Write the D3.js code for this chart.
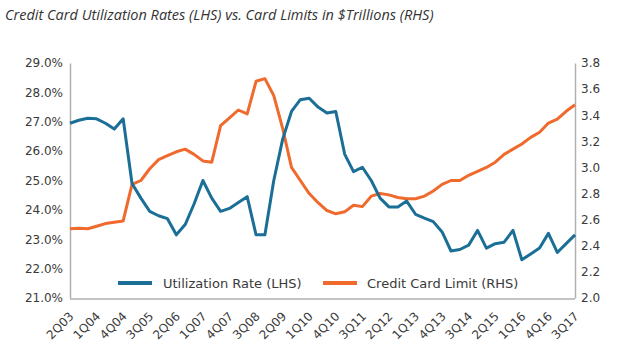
<!DOCTYPE html>
<html><head><meta charset="utf-8">
<script src="https://cdn.jsdelivr.net/npm/d3@7"></script>
<style>body{margin:0;background:#fff}svg{display:block}</style>
</head><body>
<script>
const quarters = (() => { const q=[]; for(let y=2003;y<=2017;y++) for(let k=1;k<=4;k++){ if(y===2003&&k<2) continue; if(y===2017&&k>3) continue; q.push(k+"Q"+String(y).slice(2)); } return q; })();
const utilization = [26.95,27.05,27.12,27.1,26.95,26.75,27.1,24.9,24.4,23.95,23.8,23.7,23.15,23.5,24.2,25.0,24.4,23.95,24.05,24.25,24.45,23.15,23.15,25.0,26.4,27.35,27.75,27.8,27.5,27.3,27.35,25.9,25.3,25.45,25.0,24.4,24.1,24.1,24.3,23.85,23.72,23.6,23.25,22.6,22.65,22.8,23.3,22.7,22.85,22.9,23.3,22.3,22.5,22.7,23.2,22.55,22.85,23.15];
const cardLimit = [2.53,2.535,2.53,2.55,2.57,2.58,2.59,2.87,2.9,2.99,3.06,3.09,3.12,3.14,3.1,3.05,3.04,3.32,3.38,3.44,3.41,3.66,3.68,3.55,3.3,3.0,2.9,2.8,2.73,2.67,2.645,2.66,2.71,2.7,2.78,2.8,2.79,2.77,2.76,2.76,2.78,2.82,2.87,2.9,2.9,2.94,2.97,3.0,3.04,3.1,3.14,3.18,3.23,3.27,3.34,3.37,3.43,3.48];
const leftTicks = [21,22,23,24,25,26,27,28,29];
const rightTicks = [2.0,2.2,2.4,2.6,2.8,3.0,3.2,3.4,3.6,3.8];
const xLabels = quarters.filter((d,i)=>i%3===0);
const title = "Credit Card Utilization Rates (LHS) vs. Card Limits in $Trillions (RHS)";
const legendNames = ["Utilization Rate (LHS)","Credit Card Limit (RHS)"];

const W=640,H=358, L=70, R=575, T=63, B=298;
const BLUE="#1b6f97", ORANGE="#ef6a2c";
const svg=d3.select("body").append("svg").attr("width",W).attr("height",H);
svg.append("text").attr("x",5).attr("y",20).attr("font-family","Open Sans").attr("font-style","italic")
  .attr("font-size",14.5).attr("fill","#333").text(title);

const x=d3.scalePoint().domain(quarters).range([L,R]);
const yL=d3.scaleLinear().domain([21,29]).range([B,T]);
const yR=d3.scaleLinear().domain([2.0,3.8]).range([B,T]);

const font="DejaVu Sans";
const gl=svg.append("g").attr("transform",`translate(${L},0)`)
  .call(d3.axisLeft(yL).tickValues(leftTicks).tickSize(0).tickPadding(7).tickFormat(d=>d.toFixed(1)+"%"));
const gr=svg.append("g").attr("transform",`translate(${R},0)`)
  .call(d3.axisRight(yR).tickValues(rightTicks).tickSize(0).tickPadding(6).tickFormat(d3.format(".1f")));
const gb=svg.append("g").attr("transform",`translate(0,${B+1})`)
  .call(d3.axisBottom(x).tickValues(xLabels).tickSize(0).tickPadding(0));
[gl,gr,gb].forEach(g=>{
  g.select(".domain").attr("stroke","#b0b0b0").attr("stroke-width",1.5);
  g.selectAll("text").attr("font-family",font).attr("font-size",12).attr("fill","#3a3a3a");
});
gb.select(".domain").attr("d",`M${L},0H${R}`);
gb.selectAll("text").attr("font-size",12).attr("text-anchor","end").attr("y",0).attr("dy",0)
  .attr("transform","translate(4,18) rotate(-45)");

svg.append("path").datum(cardLimit).attr("fill","none").attr("stroke",ORANGE).attr("stroke-width",3)
  .attr("stroke-linejoin","round")
  .attr("d",d3.line().x((d,i)=>x(quarters[i])).y(d=>yR(d)));
svg.append("path").datum(utilization).attr("fill","none").attr("stroke",BLUE).attr("stroke-width",3)
  .attr("stroke-linejoin","round")
  .attr("d",d3.line().x((d,i)=>x(quarters[i])).y(d=>yL(d)));

const leg=[{c:BLUE,x:118,tx:163,t:legendNames[0]},{c:ORANGE,x:323,tx:367,t:legendNames[1]}];
leg.forEach(l=>{
  svg.append("rect").attr("x",l.x).attr("y",281).attr("width",34).attr("height",4).attr("fill",l.c);
  svg.append("text").attr("x",l.tx).attr("y",288).attr("font-family",font).attr("font-size",13)
    .attr("fill","#3a3a3a").text(l.t);
});
</script>
</body></html>
